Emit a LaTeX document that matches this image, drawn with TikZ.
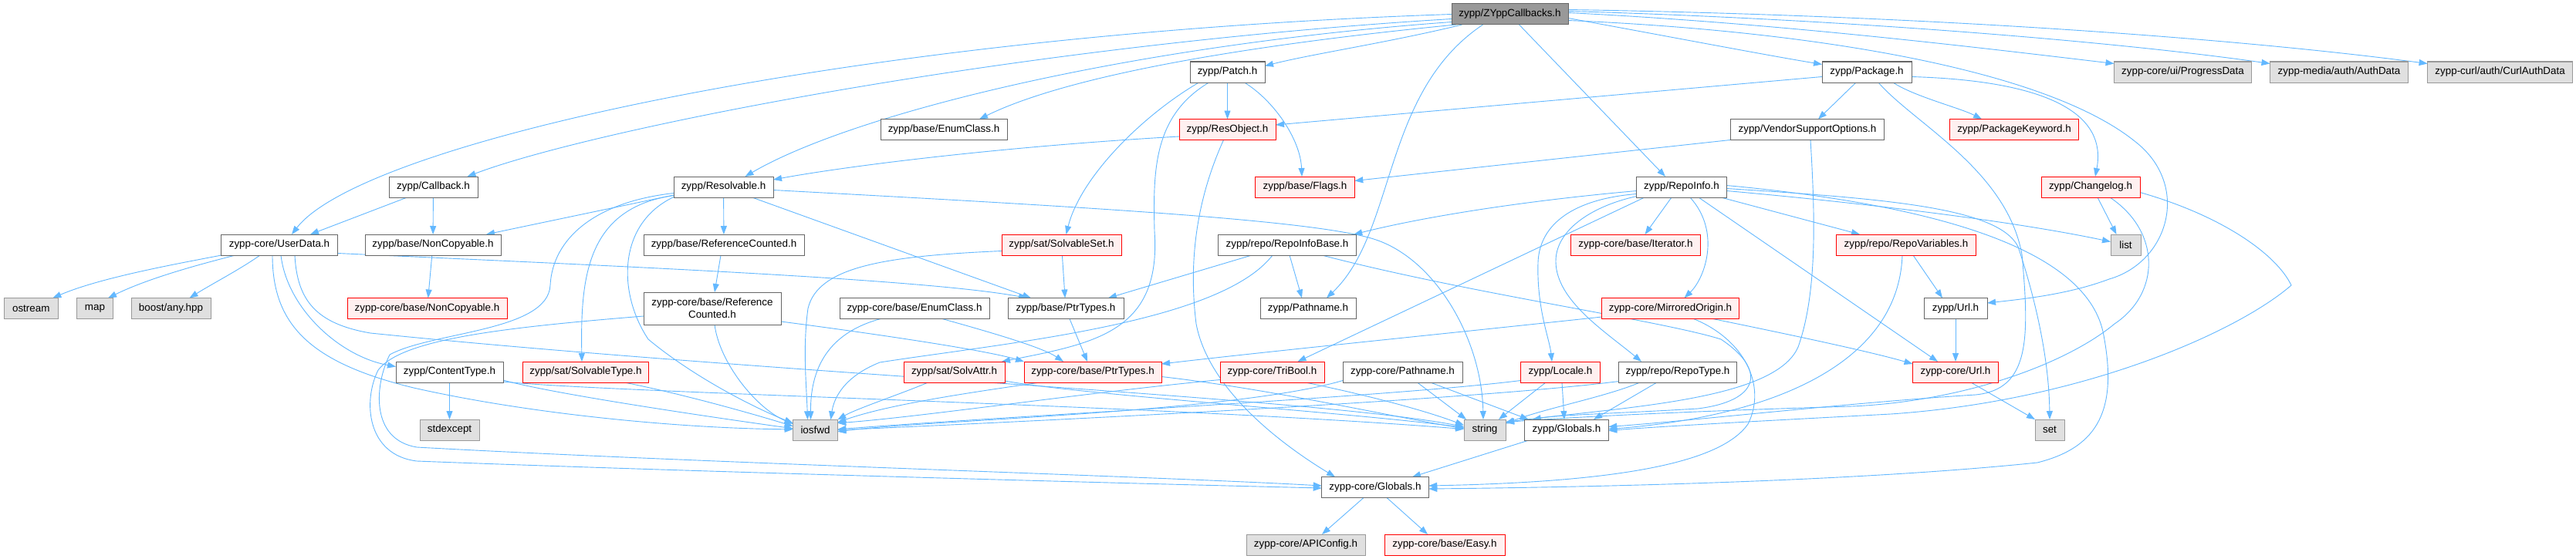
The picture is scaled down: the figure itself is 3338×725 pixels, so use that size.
\documentclass[tikz,border=0pt]{standalone}
\usepackage{fontspec}
\newfontfamily\dxsans{Liberation Sans}
\usetikzlibrary{arrows.meta}
\definecolor{cedge}{HTML}{63B8FF}
\definecolor{cbord}{HTML}{666666}
\definecolor{cgrayb}{HTML}{999999}
\definecolor{cgrayf}{HTML}{E0E0E0}
\definecolor{credf}{HTML}{FFF0F0}
\definecolor{cred}{HTML}{FF0000}
\definecolor{croot}{HTML}{999999}
\newcommand\dxfont{\dxsans\fontsize{13.4}{15.7}\selectfont}
\pgfdeclarelayer{background}
\pgfsetlayers{background,main}
\tikzset{
  nb/.style={draw=cbord, fill=white, line width=1pt, minimum height=27pt, inner sep=0pt, outer sep=0pt, text=black, font=\dxfont},
  nr/.style={nb, draw=cred, fill=credf},
  ng/.style={nb, draw=cgrayb, fill=cgrayf},
  nroot/.style={nb, fill=croot},
  edge/.style={draw=cedge, line width=0.9pt, -{Triangle[length=11pt,width=8pt]}},
}
\begin{document}
\begin{tikzpicture}[x=1pt,y=-1pt]
\useasboundingbox (0,0) rectangle (3338,725);
% ---------- nodes ----------
\node[nroot,minimum width=151pt] (R) at (1956.5,18.5) {zypp/ZYppCallbacks.h};
\node[nb,minimum width=151pt] (userdata) at (362,317.5) {zypp-core/UserData.h};
\node[nb,minimum width=115pt] (callback) at (561.5,242.5) {zypp/Callback.h};
\node[nb,minimum width=176pt] (ncopy) at (561,317.5) {zypp/base/NonCopyable.h};
\node[ng,minimum width=70pt] (ostream) at (40.3,400) {ostream};
\node[ng,minimum width=46.5pt] (map) at (123,400) {map};
\node[ng,minimum width=103pt] (anyhpp) at (221.5,400) {boost/any.hpp};
\node[nr,minimum width=207pt] (cncopy) at (553.5,400) {zypp-core/base/NonCopyable.h};
\node[nb,minimum width=139pt] (ctype) at (582.5,482.5) {zypp/ContentType.h};
\node[nr,minimum width=163pt] (stype) at (759,482.5) {zypp/sat/SolvableType.h};
\node[ng,minimum width=77pt] (stdexc) at (582.5,557.5) {stdexcept};
\node[nb,minimum width=97pt] (patch) at (1590.5,93.5) {zypp/Patch.h};
\node[nb,minimum width=164pt] (benum) at (1223,168) {zypp/base/EnumClass.h};
\node[nr,minimum width=125pt] (resobj) at (1590.5,168) {zypp/ResObject.h};
\node[nb,minimum width=129pt] (resolv) at (937.5,242.5) {zypp/Resolvable.h};
\node[nb,minimum width=208pt] (brefc) at (938,317.5) {zypp/base/ReferenceCounted.h};
\node[nr,minimum width=155pt] (sset) at (1375.5,317.5) {zypp/sat/SolvableSet.h};
\node[nb,minimum width=178.5pt] (rib) at (1668,317.5) {zypp/repo/RepoInfoBase.h};
\node[nb,minimum width=178pt,minimum height=42pt,align=center] (crefc) at (923,400) {zypp-core/base/Reference\\Counted.h};
\node[nb,minimum width=194pt] (cenum) at (1185,400) {zypp-core/base/EnumClass.h};
\node[nb,minimum width=150pt] (bptr) at (1381,400) {zypp/base/PtrTypes.h};
\node[nb,minimum width=124pt] (pathn) at (1695,400) {zypp/Pathname.h};
\node[nr,minimum width=131pt] (sattr) at (1236.5,482.5) {zypp/sat/SolvAttr.h};
\node[nr,minimum width=178pt] (cptr) at (1416,482.5) {zypp-core/base/PtrTypes.h};
\node[nr,minimum width=135pt] (tribool) at (1648.5,482.5) {zypp-core/TriBool.h};
\node[ng,minimum width=57.7pt] (iosfwd) at (1056.5,557.8) {iosfwd};
\node[ng,minimum width=154pt] (capi) at (1692,706.5) {zypp-core/APIConfig.h};
\node[nb,minimum width=116pt] (package) at (2419,93.5) {zypp/Package.h};
\node[nb,minimum width=199.5pt] (vso) at (2342,168) {zypp/VendorSupportOptions.h};
\node[nr,minimum width=128.5pt] (flags) at (1691,242.5) {zypp/base/Flags.h};
\node[nb,minimum width=116.5pt] (rinfo) at (2179,242.5) {zypp/RepoInfo.h};
\node[nr,minimum width=168pt] (iter) at (2119.5,317.5) {zypp-core/base/Iterator.h};
\node[nr,minimum width=181.7pt] (rvars) at (2470,317.5) {zypp/repo/RepoVariables.h};
\node[nr,minimum width=178pt] (mirror) at (2164.5,400) {zypp-core/MirroredOrigin.h};
\node[nb,minimum width=155pt] (cpath) at (1817.5,482.5) {zypp-core/Pathname.h};
\node[nr,minimum width=103pt] (locale) at (2022,482.5) {zypp/Locale.h};
\node[nb,minimum width=152.4pt] (rtype) at (2174,482.5) {zypp/repo/RepoType.h};
\node[ng,minimum width=54pt] (string) at (1924,557.5) {string};
\node[nb,minimum width=108.5pt] (zglob) at (2030,557.5) {zypp/Globals.h};
\node[nb,minimum width=138.5pt] (cglob) at (1782,632) {zypp-core/Globals.h};
\node[nr,minimum width=156pt] (easy) at (1872,706.5) {zypp-core/base/Easy.h};
\node[nr,minimum width=111pt] (curl) at (2534,482.5) {zypp-core/Url.h};
\node[nb,minimum width=82pt] (url) at (2534,400) {zypp/Url.h};
\node[ng,minimum width=178pt] (progress) at (2828.5,93.5) {zypp-core/ui/ProgressData};
\node[ng,minimum width=179pt] (auth) at (3031,93.5) {zypp-media/auth/AuthData};
\node[ng,minimum width=188pt] (curlauth) at (3239.6,93.5) {zypp-curl/auth/CurlAuthData};
\node[nr,minimum width=167.5pt] (pkgkw) at (2610,168) {zypp/PackageKeyword.h};
\node[nr,minimum width=128pt] (chlog) at (2709,242.5) {zypp/Changelog.h};
\node[ng,minimum width=39pt] (list) at (2754.5,317.5) {list};
\node[ng,minimum width=38pt] (set) at (2656,557.5) {set};
% ---------- edges ----------
\begin{pgfonlayer}{background}
\fill[white] (0,0) rectangle (3338,725);
% root
\draw[edge] (R.west) .. controls (1100,45) and (470,185) .. ([xshift=16pt]userdata.north);
\draw[edge] ([yshift=-6pt]R.west) .. controls (1300,60) and (760,170) .. ([xshift=44pt]callback.north);
\draw[edge] ([yshift=-10pt]R.west) .. controls (1450,60) and (1100,150) .. ([xshift=28pt]resolv.north);
\draw[edge] ([xshift=-70pt]R.south) .. controls (1600,60) and (1380,100) .. ([xshift=46pt]benum.north);
\draw[edge] ([xshift=-62pt]R.south) .. controls (1800,55) and (1700,70) .. ([yshift=8pt]patch.east);
\draw[edge] ([xshift=-35pt]R.south) .. controls (1790,120) and (1810,300) .. ([xshift=24pt]pathn.north);
\draw[edge] ([xshift=12pt]R.south) -- ([xshift=-21pt]rinfo.north);
\draw[edge] ([yshift=-5pt]R.east) .. controls (2150,45) and (2280,70) .. ([yshift=10pt]package.west);
\draw[edge] ([yshift=2pt]R.east) .. controls (2300,30) and (2550,60) .. ([yshift=11pt]progress.west);
\draw[edge] ([yshift=4pt]R.east) .. controls (2400,25) and (2750,55) .. ([yshift=11pt]auth.west);
\draw[edge] ([yshift=6pt]R.east) .. controls (2500,20) and (2900,50) .. ([yshift=11pt]curlauth.west);
\draw[edge] ([yshift=-8pt]R.east) .. controls (2350,40) and (2650,90) .. (2766,183) .. controls (2840,240) and (2810,340) .. (2733,362) .. controls (2680,382) and (2620,388) .. ([yshift=7pt]url.east);
% callback / noncopyable
\draw[edge] ([xshift=-34pt]callback.south) -- ([xshift=40pt]userdata.north);
\draw[edge] (callback) -- (ncopy);
\draw[edge] (ncopy) -- (cncopy);
% userdata
\draw[edge] ([xshift=-75pt]userdata.south) .. controls (230,342) and (130,360) .. ([xshift=28pt]ostream.north);
\draw[edge] ([xshift=-57pt]userdata.south) .. controls (250,345) and (190,362) .. ([xshift=17pt]map.north);
\draw[edge] ([xshift=-25pt]userdata.south) .. controls (310,350) and (275,368) .. ([xshift=24pt]anyhpp.north);
\draw[edge] ([xshift=2pt]userdata.south) .. controls (372,400) and (440,462) .. ([yshift=7pt]ctype.west);
\draw[edge] ([xshift=-9pt]userdata.south) .. controls (353,420) and (400,470) .. (536,503) .. controls (700,540) and (900,556) .. ([yshift=1pt]iosfwd.west);
\draw[edge] ([xshift=20pt]userdata.south) .. controls (385,390) and (410,420) .. (480,432) .. controls (1000,485) and (1700,515) .. ([yshift=4pt]string.west);
\draw[edge] ([yshift=-11pt]userdata.east) .. controls (800,345) and (1200,362) .. ([xshift=-50pt]bptr.north);
% resolvable
\draw[edge] (resolv) -- (brefc);
\draw[edge] ([yshift=3pt]resolv.south west) -- ([xshift=-19pt]ncopy.north east);
\draw[edge] ([yshift=-11pt]resolv.west) .. controls (760,270) and (752,360) .. ([xshift=-5pt]stype.north);
\draw[edge] ([yshift=-13pt]resolv.west) .. controls (800,290) and (800,380) .. (840,440) .. controls (900,490) and (980,530) .. ([yshift=9pt]iosfwd.west);
\draw[edge] ([yshift=-8pt]resolv.west) .. controls (770,262) and (716,310) .. (713,370) .. controls (710,430) and (560,430) .. (505,460) .. controls (485,500) and (480,570) .. (540,580) .. controls (900,600) and (1500,618) .. ([yshift=2pt]cglob.west);
\draw[edge] ([xshift=37pt]resolv.south) -- ([xshift=-45pt]bptr.north);
\draw[edge] ([yshift=-4pt]resolv.east) .. controls (1400,268) and (1700,285) .. (1780,310) .. controls (1860,335) and (1920,440) .. ([xshift=-2pt]string.north);
% repoinfobase
\draw[edge] ([xshift=45pt]rib.south) .. controls (1900,380) and (2150,415) .. (2230,440) .. controls (2290,480) and (2280,520) .. (2200,530) .. controls (2100,536) and (2020,538) .. ([xshift=10pt]zglob.north west);
\draw[edge] ([xshift=-46pt]rib.south) -- ([xshift=55pt]bptr.north);
\draw[edge] ([xshift=-19pt]rib.south) .. controls (1580,420) and (1300,445) .. (1140,470) .. controls (1090,490) and (1080,520) .. ([xshift=20pt]iosfwd.north);
\draw[edge] ([xshift=3pt]rib.south) -- ([xshift=-8pt]pathn.north);
% patch
\draw[edge] ([xshift=-24pt]patch.south) .. controls (1495,150) and (1494,220) .. (1496,300) .. controls (1505,430) and (1420,445) .. ([xshift=-4pt]sattr.north east);
\draw[edge] ([xshift=-37pt]patch.south) .. controls (1480,150) and (1400,230) .. ([xshift=6pt]sset.north);
\draw[edge] (patch) -- (resobj);
\draw[edge] ([xshift=22pt]patch.south) .. controls (1650,130) and (1685,180) .. ([xshift=-4pt]flags.north);
% resobject
\draw[edge] ([yshift=-9pt]resobj.west) .. controls (1300,190) and (1100,215) .. ([yshift=-4pt]resolv.north east);
\draw[edge] ([xshift=-5pt]resobj.south) .. controls (1550,260) and (1540,340) .. (1550,420) .. controls (1565,500) and (1650,570) .. ([xshift=-52pt]cglob.north);
% package
\draw[edge] ([yshift=-6pt]package.west) -- ([yshift=6pt]resobj.east);
\draw[edge] ([xshift=-14pt]package.south) -- ([xshift=14pt]vso.north);
\draw[edge] ([xshift=34pt]package.south) .. controls (2480,125) and (2540,140) .. ([xshift=-42pt]pkgkw.north);
\draw[edge] ([yshift=-6pt]package.east) .. controls (2660,105) and (2730,150) .. ([xshift=6pt]chlog.north);
\draw[edge] ([xshift=15pt]package.south) .. controls (2480,160) and (2600,220) .. (2620,330) .. controls (2630,440) and (2630,505) .. (2560,512) .. controls (2400,522) and (2200,545) .. ([yshift=4pt]zglob.east);
% vendor support options
\draw[edge] (vso.south west) -- ([yshift=8pt]flags.east);
\draw[edge] ([xshift=4pt]vso.south) .. controls (2352,280) and (2355,380) .. (2330,450) .. controls (2300,520) and (2100,528) .. ([yshift=10pt]string.east);
% repoinfo
\draw[edge] ([yshift=-5pt]rinfo.west) .. controls (1980,260) and (1850,280) .. ([xshift=-3pt]rib.north east);
\draw[edge] ([xshift=-48pt]rinfo.south) -- ([xshift=33pt]tribool.north);
\draw[edge] ([yshift=-9pt]rinfo.west) .. controls (2040,258) and (1995,290) .. (1993,340) .. controls (1991,400) and (2008,440) .. ([xshift=-11pt]locale.north);
\draw[edge] ([yshift=-12pt]rinfo.west) .. controls (2060,268) and (2015,300) .. (2016,340) .. controls (2017,390) and (2080,430) .. ([xshift=-47pt]rtype.north);
\draw[edge] ([xshift=-13pt]rinfo.south) -- ([xshift=12pt]iter.north);
\draw[edge] ([xshift=11pt]rinfo.south) .. controls (2230,300) and (2210,360) .. ([xshift=18pt]mirror.north);
\draw[edge] ([xshift=22pt]rinfo.south) -- ([xshift=-23pt]curl.north);
\draw[edge] ([xshift=51pt]rinfo.south) -- ([xshift=-60pt]rvars.north);
\draw[edge] ([yshift=-5pt]rinfo.east) .. controls (2400,262) and (2600,285) .. ([yshift=4pt]list.west);
\draw[edge] ([yshift=-2pt]rinfo.east) .. controls (2450,258) and (2590,270) .. (2615,320) .. controls (2635,380) and (2655,460) .. (set.north);
\draw[edge] ([yshift=2pt]rinfo.east) .. controls (2500,265) and (2700,320) .. (2725,430) .. controls (2745,530) and (2720,580) .. (2640,600) .. controls (2400,625) and (2050,632) .. ([yshift=-2pt]cglob.east);
% repovariables, url
\draw[edge] ([xshift=9pt]rvars.south) -- ([xshift=-17pt]url.north);
\draw[edge] ([xshift=-5pt]rvars.south) .. controls (2460,470) and (2300,540) .. ([yshift=1pt]zglob.east);
\draw[edge] (url) -- (curl);
\draw[edge] ([xshift=20pt]curl.south) -- (set.north west);
% mirroredorigin
\draw[edge] ([yshift=-11pt]mirror.west) .. controls (1900,430) and (1650,455) .. ([yshift=-3pt]cptr.north east);
\draw[edge] ([xshift=55pt]mirror.south) .. controls (2300,430) and (2420,455) .. ([yshift=-3pt]curl.north west);
\draw[edge] ([xshift=30pt]mirror.south) .. controls (2260,440) and (2290,500) .. (2265,550) .. controls (2230,600) and (2100,625) .. ([yshift=2pt]cglob.east);
% globals
\draw[edge] ([xshift=-49pt]zglob.south) -- ([xshift=48pt]cglob.north);
\draw[edge] ([xshift=-15pt]cglob.south) -- ([xshift=21pt]capi.north);
\draw[edge] ([xshift=15pt]cglob.south) -- ([xshift=-22pt]easy.north);
% changelog
\draw[edge] ([xshift=9pt]chlog.south) -- ([xshift=-12pt]list.north);
\draw[edge] ([xshift=25pt]chlog.south) .. controls (2800,300) and (2800,380) .. (2740,420) .. controls (2680,470) and (2550,520) .. (2400,527) .. controls (2200,533) and (2050,540) .. ([yshift=10pt]string.east);
\draw[edge] ([yshift=-7pt]chlog.east) .. controls (2880,280) and (2950,330) .. (2969,370) .. controls (2900,430) and (2700,520) .. (2450,537) .. controls (2300,545) and (2150,553) .. ([yshift=-1pt]zglob.east);
% pathname family
\draw[edge] ([xshift=19pt]cpath.south) -- ([xshift=3pt]string.north west);
\draw[edge] ([xshift=36pt]cpath.south) -- ([xshift=5pt]zglob.north west);
\draw[edge] ([yshift=-11pt]cpath.west) .. controls (1600,535) and (1200,545) .. ([yshift=-2pt]iosfwd.east);
\draw[edge] ([xshift=-19pt]locale.south) -- ([xshift=18pt]string.north);
\draw[edge] ([xshift=2pt]locale.south) -- ([xshift=-3pt]zglob.north);
\draw[edge] ([yshift=-11pt]locale.west) .. controls (1800,515) and (1300,540) .. ([yshift=1pt]iosfwd.east);
\draw[edge] ([xshift=-27pt]rtype.south) -- ([xshift=35pt]zglob.north);
\draw[edge] ([xshift=-49pt]rtype.south) .. controls (2080,515) and (2000,530) .. ([yshift=8pt]string.east);
\draw[edge] ([yshift=-12pt]rtype.west) .. controls (1900,520) and (1300,548) .. (iosfwd.east);
\draw[edge] ([yshift=-10pt]tribool.west) .. controls (1400,510) and (1200,540) .. ([yshift=9pt]iosfwd.east);
\draw[edge] ([xshift=43pt]tribool.south) .. controls (1760,510) and (1840,530) .. ([yshift=6pt]string.west);
% ptrtypes, solvattr, enumclass
\draw[edge] ([xshift=-68pt]cptr.south) .. controls (1250,510) and (1150,525) .. ([yshift=10pt]iosfwd.east);
\draw[edge] ([yshift=-6pt]cptr.east) .. controls (1650,505) and (1800,540) .. ([yshift=2pt]string.west);
\draw[edge] ([xshift=-34pt]sattr.south) .. controls (1170,510) and (1110,530) .. (iosfwd.north east);
\draw[edge] ([yshift=2pt]sattr.south east) .. controls (1400,512) and (1750,535) .. ([yshift=3pt]string.west);
\draw[edge] ([xshift=-44pt]cenum.south) .. controls (1080,430) and (1050,470) .. ([xshift=-6pt]iosfwd.north);
\draw[edge] ([xshift=36pt]cenum.south) .. controls (1280,430) and (1350,450) .. ([xshift=-38pt]cptr.north);
\draw[edge] ([xshift=5pt]bptr.south) -- ([xshift=-7pt]cptr.north);
% referencecounted
\draw[edge] ([xshift=-4pt]brefc.south) -- ([xshift=3pt]crefc.north);
\draw[edge] ([xshift=3pt]crefc.south) .. controls (932,470) and (980,530) .. ([yshift=8pt]iosfwd.west);
\draw[edge] ([yshift=-17pt]crefc.east) .. controls (1150,435) and (1280,455) .. (cptr.north west);
\draw[edge] ([yshift=-10pt]crefc.west) .. controls (650,425) and (520,440) .. (490,480) .. controls (470,520) and (475,590) .. (540,598) .. controls (900,612) and (1500,628) .. ([yshift=-1pt]cglob.west);
% solvableset
\draw[edge] (sset) -- (bptr);
\draw[edge] ([yshift=-8pt]sset.west) .. controls (1150,332) and (1060,345) .. (1047,400) .. controls (1040,450) and (1045,500) .. ([xshift=-10pt]iosfwd.north);
% contenttype, solvabletype
\draw[edge] (ctype) -- (stdexc);
\draw[edge] ([yshift=3pt]ctype.south east) .. controls (720,512) and (950,545) .. ([yshift=2pt]iosfwd.west);
\draw[edge] ([yshift=1pt]ctype.south east) .. controls (800,510) and (1500,525) .. ([yshift=1pt]string.west);
\draw[edge] ([xshift=50pt]stype.south) .. controls (880,510) and (970,535) .. ([yshift=5pt]iosfwd.west);
\end{pgfonlayer}
\end{tikzpicture}
\end{document}
